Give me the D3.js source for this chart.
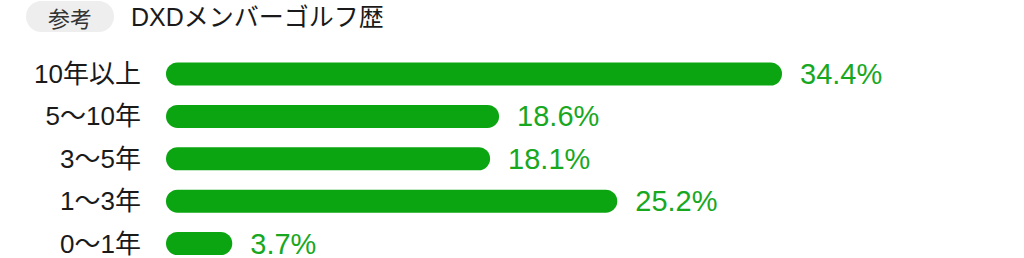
<!DOCTYPE html>
<html lang="ja">
<head>
<meta charset="utf-8">
<script src="https://d3js.org/d3.v7.min.js"></script>
<style>
  body { margin: 0; background: #fff; }
</style>
</head>
<body>
<script>
// data
const badge = "参考";
const title = "DXDメンバーゴルフ歴";
const categories = ["10年以上", "5〜10年", "3〜5年", "1〜3年", "0〜1年"];
const values = [34.4, 18.6, 18.1, 25.2, 3.7];

const W = 1024, H = 258;
const barLeft = 166, barH = 23;
const green = "#0ca512", textGreen = "#18a81f";
const jp = "'Liberation Sans', 'Noto Sans CJK JP', sans-serif";

const svg = d3.select("body").append("svg")
  .attr("width", W).attr("height", H);

// header
svg.append("rect")
  .attr("x", 26).attr("y", 1).attr("width", 88).attr("height", 31)
  .attr("rx", 15.5).attr("fill", "#eeeeee");
svg.append("text")
  .attr("x", 70).attr("y", 17)
  .attr("text-anchor", "middle").attr("dominant-baseline", "central")
  .style("font-family", "'Noto Sans CJK JP', sans-serif").style("font-size", "22px")
  .attr("fill", "#333").text(badge);
svg.append("text")
  .attr("x", 131).attr("y", 17)
  .attr("dominant-baseline", "central")
  .style("font-family", jp).style("font-size", "25px")
  .attr("fill", "#1a1a1a").text(title);

// scales
const x = d3.scaleLinear().domain([0, 34.4]).range([0, 616]);
const y = d3.scalePoint().domain(categories).range([74, 243.5]);

const rows = categories.map((c, i) => ({ cat: c, v: values[i] }));

svg.selectAll(".bar").data(rows).join("rect")
  .attr("class", "bar")
  .attr("x", barLeft)
  .attr("y", d => y(d.cat) - barH / 2)
  .attr("width", d => x(d.v))
  .attr("height", barH)
  .attr("rx", barH / 2)
  .attr("fill", green);

svg.selectAll(".cat").data(rows).join("text")
  .attr("class", "cat")
  .attr("x", 141).attr("y", d => y(d.cat))
  .attr("text-anchor", "end").attr("dominant-baseline", "central")
  .style("font-family", jp).style("font-size", "26px")
  .attr("fill", "#1a1a1a")
  .text(d => d.cat);

svg.selectAll(".val").data(rows).join("text")
  .attr("class", "val")
  .attr("x", d => barLeft + x(d.v) + 18).attr("y", d => y(d.cat))
  .attr("dominant-baseline", "central")
  .style("font-family", "'Liberation Sans', sans-serif").style("font-size", "29px")
  .attr("fill", textGreen)
  .text(d => d.v.toFixed(1) + "%");
</script>
</body>
</html>
